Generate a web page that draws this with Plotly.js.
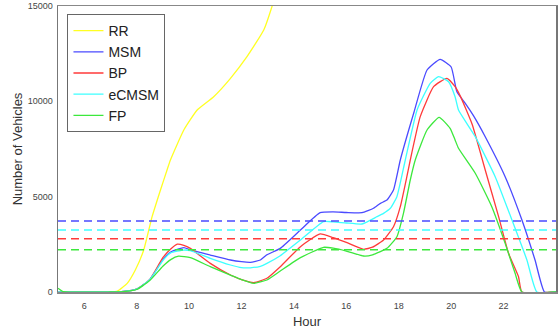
<!DOCTYPE html>
<html>
<head>
<meta charset="utf-8">
<script src="https://cdn.plot.ly/plotly-3.0.1.min.js"></script>
<style>html,body{margin:0;padding:0;background:#fff;}#chart{width:559px;height:329px;}</style>
</head>
<body>
<div id="chart"></div>
<script>
// Series names and colours
const seriesNames = ["RR", "MSM", "BP", "eCMSM", "FP"];
const seriesColors = ["#ffff22", "#4a4aff", "#ff3a3a", "#3cffff", "#3ce83c"];

// RR (yellow)
const rrHour = [5, 7.0, 7.27, 7.64, 7.95, 8.27, 8.59, 8.91, 9.16, 9.29, 9.8, 10.31, 10.94, 11.58, 12.21, 12.85, 13.17, 13.5];
const rrVal  = [0, 0, 50, 456, 1154, 2203, 3950, 5350, 6400, 6923, 8497, 9546, 10244, 11208, 12342, 13742, 15000, 16600];

// MSM (blue)
const msmHour = [5, 7.0, 7.5, 8.0, 8.5, 9.0, 9.3, 9.8, 10.05, 10.81, 11.58, 12.0, 12.34, 12.72, 12.97, 13.48, 14.25, 15.0, 15.5, 16.0, 16.6, 17.04, 17.3, 17.55, 17.8, 18.06, 18.57, 19.08, 19.58, 20.0, 20.22, 20.54, 20.85, 21.3, 22.06, 22.7, 23.2, 23.56, 24];
const msmVal  = [0, 0, 30, 150, 650, 1700, 2100, 2330, 2210, 1940, 1678, 1590, 1557, 1678, 1950, 2290, 3252, 4160, 4200, 4170, 4160, 4390, 4650, 4825, 5350, 6923, 9373, 11644, 12205, 11800, 10500, 9896, 9250, 8146, 6050, 3776, 1678, 0, 0];

// BP (red)
const bpHour = [5, 7.0, 7.5, 8.0, 8.5, 9.0, 9.3, 9.55, 9.8, 10.05, 10.81, 11.58, 12.0, 12.47, 12.97, 13.48, 14.25, 15.0, 15.5, 16.0, 16.66, 17.0, 17.42, 17.8, 18.06, 18.31, 18.44, 18.82, 19.33, 19.84, 20.15, 20.34, 20.8, 21.3, 21.81, 22.19, 22.57, 22.7, 24];
const bpVal  = [0, 0, 30, 150, 650, 1800, 2250, 2510, 2450, 2290, 1503, 890, 650, 488, 718, 1327, 2378, 3050, 2850, 2600, 2240, 2350, 2727, 3425, 4475, 6050, 6923, 9196, 10768, 11208, 10768, 10300, 8800, 6400, 3950, 2028, 800, 0, 0];

// eCMSM (cyan)
const ecHour = [5, 7.0, 7.5, 8.0, 8.5, 9.0, 9.3, 9.8, 10.05, 10.81, 11.58, 12.0, 12.34, 12.72, 12.97, 13.48, 14.25, 15.13, 15.5, 16.0, 16.6, 17.17, 17.42, 17.68, 17.93, 18.25, 18.7, 19.2, 19.52, 19.9, 20.15, 20.28, 20.92, 21.68, 22.32, 22.89, 23.27, 24];
const ecVal  = [0, 0, 30, 150, 650, 1650, 2050, 2200, 2170, 1766, 1416, 1275, 1270, 1350, 1503, 1900, 2727, 3690, 3680, 3620, 3567, 3950, 4126, 4390, 5000, 6923, 9546, 10946, 11293, 11030, 10244, 9546, 8146, 6050, 3776, 1678, 0, 0];

// FP (green)
const fpHour = [5, 5.2, 7.0, 7.5, 8.0, 8.5, 9.0, 9.3, 9.6, 10.05, 10.81, 11.58, 12.0, 12.47, 12.97, 13.48, 14.25, 15.13, 15.5, 16.0, 16.66, 17.0, 17.55, 17.93, 18.18, 18.44, 18.63, 19.08, 19.54, 19.96, 20.15, 20.28, 20.92, 21.55, 22.06, 22.44, 22.7, 24];
const fpVal  = [200, 20, 0, 20, 130, 600, 1350, 1700, 1880, 1800, 1327, 890, 650, 455, 630, 1100, 1800, 2343, 2300, 2150, 1888, 1950, 2290, 2900, 4126, 5874, 6923, 8497, 9163, 8586, 7972, 7537, 6226, 4475, 2552, 980, 0, 0];

// Average (dashed) levels: MSM, BP, eCMSM, FP
const avgNames = ["MSM", "BP", "eCMSM", "FP"];
const avgLevels = [3720, 2795, 3250, 2220];
const avgSpan = [5, 24];

const xTicks = [6, 8, 10, 12, 14, 16, 18, 20, 22, 24];
const yTicks = [0, 5000, 10000, 15000];

const hours = [rrHour, msmHour, bpHour, ecHour, fpHour];
const vals = [rrVal, msmVal, bpVal, ecVal, fpVal];

const traces = [];
for (let i = 0; i < seriesNames.length; i++) {
  traces.push({
    x: hours[i], y: vals[i], name: seriesNames[i], type: "scatter", mode: "lines",
    line: {color: seriesColors[i], width: 1.3, shape: "spline", smoothing: 0.45}
  });
}
for (let j = 0; j < avgNames.length; j++) {
  const c = seriesColors[seriesNames.indexOf(avgNames[j])];
  traces.push({
    x: avgSpan, y: [avgLevels[j], avgLevels[j]], name: avgNames[j] + " avg", type: "scatter", mode: "lines",
    showlegend: false, line: {color: c, width: 1.5, dash: "8px,5px"}
  });
}

const layout = {
  width: 559, height: 329,
  margin: {l: 57.5, r: 3, t: 6, b: 37, pad: 0},
  paper_bgcolor: "#ffffff", plot_bgcolor: "#ffffff",
  font: {family: "Liberation Sans, Arial, sans-serif", color: "#333"},
  showlegend: true,
  legend: {
    x: 0.019, y: 0.972, xanchor: "left", yanchor: "top",
    bgcolor: "#ffffff", bordercolor: "#666", borderwidth: 1,
    font: {size: 14, color: "#222", family: "Liberation Sans, Arial, sans-serif"},
    itemwidth: 30, tracegroupgap: 0
  },
  xaxis: {
    range: [5, 24], tickvals: xTicks, ticktext: xTicks.map(String),
    showgrid: false, zeroline: false, ticks: "", ticklabelstandoff: 5,
    showline: true, mirror: true, linecolor: "#888", linewidth: 1.5,
    tickfont: {size: 9, color: "#444"}, automargin: false,
    title: {text: "Hour", font: {size: 13, color: "#333"}}
  },
  yaxis: {
    range: [0, 15000], tickvals: yTicks, ticktext: yTicks.map(String),
    showgrid: false, zeroline: false, ticks: "", ticklabelstandoff: 2,
    showline: true, mirror: true, linecolor: "#777", linewidth: 1.5,
    tickfont: {size: 9, color: "#444"}, automargin: false,
    title: {text: "Number of Vehicles", font: {size: 13, color: "#333"}}
  }
};

Plotly.newPlot("chart", traces, layout, {staticPlot: true, displayModeBar: false});
</script>
</body>
</html>
